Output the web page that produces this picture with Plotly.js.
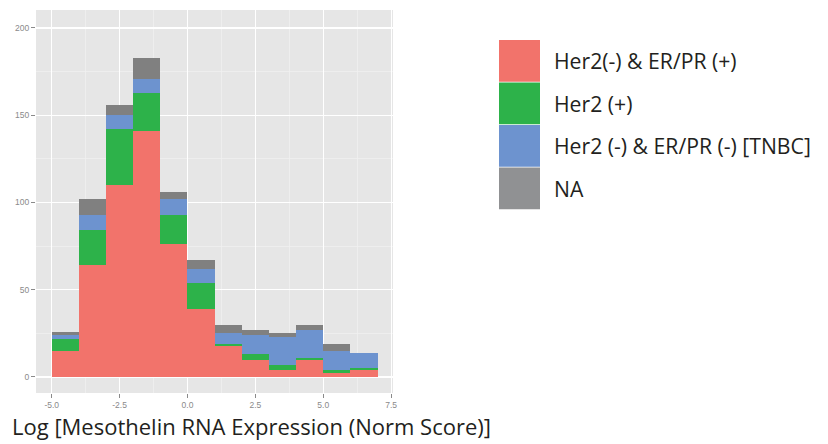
<!DOCTYPE html>
<html><head><meta charset="utf-8">
<script src="https://cdn.plot.ly/plotly-3.0.1.min.js"></script>
<style>body{margin:0;background:#fff}#c{width:828px;height:444px}</style>
</head><body><div id="c"></div>
<script>
const binCenters = [-4.5,-3.5,-2.5,-1.5,-0.5,0.5,1.5,2.5,3.5,4.5,5.5,6.5];
const categories = ["Her2(-) & ER/PR (+)","Her2 (+)","Her2 (-) & ER/PR (-) [TNBC]","NA"];
const her2negErpos = [15,64,110,141,76,39,18,10,4,10,2,4];
const her2pos      = [7,20,32,22,17,15,1,3,3,1,2,1];
const tnbc         = [2,9,8,8,9,8,6,11,16,16,11,9];
const naCounts     = [2,9,6,12,4,5,5,3,2,3,4,0];
const series = [her2negErpos, her2pos, tnbc, naCounts];
const colors = ["#F2736B","#2DB24A","#6D93CF","#808080"];
const legendColors = ["#F2736B","#2DB24A","#6D93CF","#909193"];
const xTicks = [-5,-2.5,0,2.5,5,7.5];
const xTickText = ["-5.0","-2.5","0.0","2.5","5.0","7.5"];
const yTicks = [0,50,100,150,200];
const xTitle = "Log [Mesothelin RNA Expression (Norm Score)]";

const L=36,R=393,T=10,B=393,W=828,H=444;
const px2x = p => (p-L)/(R-L);
const py2y = p => (B-p)/(B-T);

const traces = series.map((s,i)=>({
  type:'bar', x:binCenters, y:s, name:categories[i], width:1,
  marker:{color:colors[i], line:{width:0}}, showlegend:false, hoverinfo:'skip'
}));

const shapes=[], annotations=[];
const sw={x0:499,x1:540,top:40,h:42.5};
categories.forEach((c,i)=>{
  const y0=sw.top+i*sw.h, y1=y0+sw.h-0.8;
  shapes.push({type:'rect',xref:'paper',yref:'paper',x0:px2x(sw.x0),x1:px2x(sw.x1),
    y0:py2y(y1),y1:py2y(y0),fillcolor:legendColors[i],line:{width:0}});
  annotations.push({xref:'paper',yref:'paper',x:px2x(552),y:py2y((y0+y1)/2),
    xanchor:'left',yanchor:'middle',showarrow:false,text:c,
    font:{family:'Open Sans, sans-serif',size:21.2,color:'#231F20'}});
});
annotations.push({xref:'paper',yref:'paper',x:px2x(10),y:py2y(426),xanchor:'left',yanchor:'middle',
  showarrow:false,text:xTitle,font:{family:'Open Sans, sans-serif',size:22,color:'#231F20'}});

const layout={
  width:W,height:H,margin:{l:L,r:W-R,t:T,b:H-B,pad:0},
  paper_bgcolor:'#fff',plot_bgcolor:'#E6E6E6',barmode:'stack',bargap:0,
  xaxis:{range:[-5.58,7.57],tickvals:xTicks,ticktext:xTickText,showgrid:true,gridcolor:'#FFFFFF',gridwidth:1.2,
    zeroline:false,showline:false,ticks:'outside',ticklen:4,tickcolor:'#8A8A8A',tickwidth:1,
    tickfont:{family:'Liberation Sans, Arial, sans-serif',size:8.5,color:'#8A8A8A'},
    minor:{tickvals:[-3.75,-1.25,1.25,3.75,6.25],showgrid:true,gridcolor:'#F0F0F0',gridwidth:0.8,ticks:''}},
  yaxis:{range:[-9.2,210.3],tickvals:yTicks,showgrid:true,gridcolor:'#FFFFFF',gridwidth:1.2,
    zeroline:false,showline:false,ticks:'outside',ticklen:4,tickcolor:'#8A8A8A',tickwidth:1,
    tickfont:{family:'Liberation Sans, Arial, sans-serif',size:8.5,color:'#8A8A8A'},
    minor:{tickvals:[25,75,125,175],showgrid:true,gridcolor:'#F0F0F0',gridwidth:0.8,ticks:''}},
  shapes, annotations
};
Plotly.newPlot('c',traces,layout,{staticPlot:true,displayModeBar:false});
</script></body></html>
